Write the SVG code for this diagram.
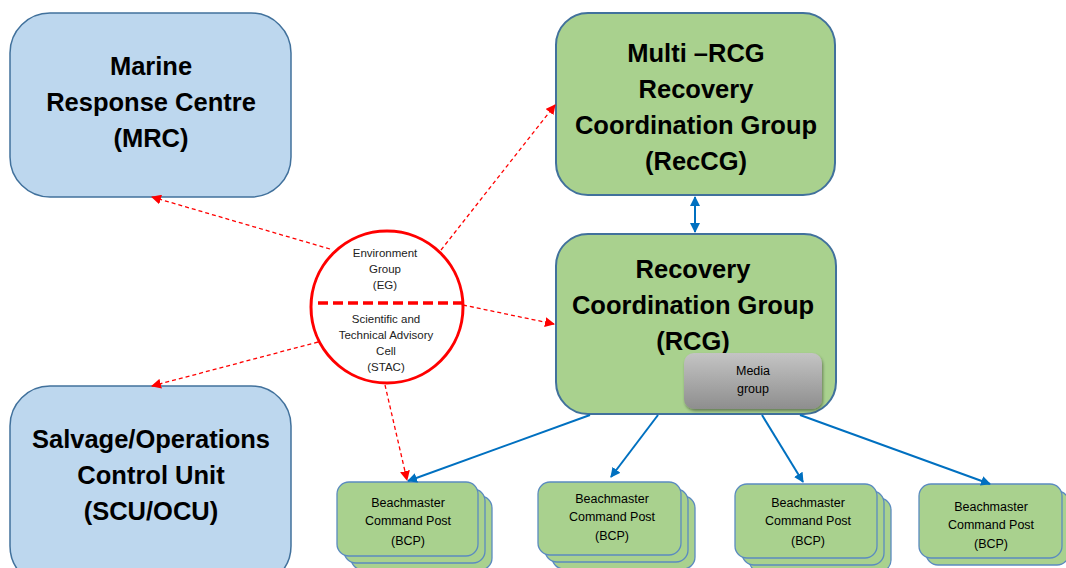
<svg xmlns="http://www.w3.org/2000/svg" width="1066" height="568" viewBox="0 0 1066 568">
<style>
.blue{fill:#BDD7EE;stroke:#41719C;stroke-width:1.5}
.green{fill:#A9D18E;stroke:#41719C;stroke-width:2}
.bcp{fill:#A9D18E;stroke:#5B8BC0;stroke-width:1.3}
.big{font-family:"Liberation Sans",Arial,sans-serif;font-weight:bold;font-size:25.5px;fill:#000;text-anchor:middle}
.small{font-family:"Liberation Sans",Arial,sans-serif;font-size:12.5px;fill:#000;text-anchor:middle}
.tiny{font-family:"Liberation Sans",Arial,sans-serif;font-size:11.5px;fill:#222;text-anchor:middle}
.red{stroke:#FF0000;stroke-width:1.3;stroke-dasharray:4 3;fill:none;marker-end:url(#ra)}
.bl{stroke:#0070C0;stroke-width:2;fill:none;marker-end:url(#ba)}
</style>
<defs>
<marker id="ra" viewBox="0 0 10 10" refX="9" refY="5" markerWidth="10" markerHeight="10" markerUnits="userSpaceOnUse" orient="auto"><path d="M0,0 L10,5 L0,10 z" fill="#FF0000"/></marker>
<marker id="ba" viewBox="0 0 10 10" refX="9" refY="5" markerWidth="10" markerHeight="10" markerUnits="userSpaceOnUse" orient="auto-start-reverse"><path d="M0,0 L10,5 L0,10 z" fill="#0070C0"/></marker>
<linearGradient id="mg" x1="0" y1="0" x2="0" y2="1"><stop offset="0" stop-color="#C4C4C4"/><stop offset="1" stop-color="#8E8E8E"/></linearGradient>
<filter id="sh" x="-10%" y="-10%" width="130%" height="140%"><feDropShadow dx="1" dy="2" stdDeviation="1.5" flood-color="#000" flood-opacity="0.4"/></filter>
</defs>

<g id="mrc">
<rect class="blue" x="10" y="13" width="281" height="184" rx="40"/>
<text class="big" x="151" y="75">Marine</text>
<text class="big" x="151" y="111">Response Centre</text>
<text class="big" x="151" y="147">(MRC)</text>
</g>

<g id="scu">
<rect class="blue" x="10" y="386" width="281" height="200" rx="40"/>
<text class="big" x="151" y="448">Salvage/Operations</text>
<text class="big" x="151" y="484">Control Unit</text>
<text class="big" x="151" y="520">(SCU/OCU)</text>
</g>

<g id="reccg">
<rect class="green" x="556" y="13" width="279" height="182" rx="32"/>
<text class="big" x="696" y="62">Multi –RCG</text>
<text class="big" x="696" y="98">Recovery</text>
<text class="big" x="696" y="134">Coordination Group</text>
<text class="big" x="696" y="170">(RecCG)</text>
</g>

<g id="rcg">
<rect class="green" x="556" y="234" width="280" height="180" rx="32"/>
<text class="big" x="693" y="278">Recovery</text>
<text class="big" x="693" y="314">Coordination Group</text>
<text class="big" x="693" y="350">(RCG)</text>
</g>

<g id="media">
<rect x="684" y="353" width="138" height="56" rx="10" fill="url(#mg)" filter="url(#sh)"/>
<text class="small" x="753" y="375">Media</text>
<text class="small" x="753" y="393">group</text>
</g>

<g id="eg-stac">
<circle cx="387" cy="307" r="76" fill="#fff" stroke="#FF0000" stroke-width="3"/>
<line x1="318" y1="303" x2="463" y2="303" stroke="#FF0000" stroke-width="3.5" stroke-dasharray="10 5"/>
<text class="tiny" x="385" y="257">Environment</text>
<text class="tiny" x="385" y="273">Group</text>
<text class="tiny" x="385" y="289">(EG)</text>
<text class="tiny" x="386" y="323">Scientific and</text>
<text class="tiny" x="386" y="339">Technical Advisory</text>
<text class="tiny" x="386" y="355">Cell</text>
<text class="tiny" x="386" y="371">(STAC)</text>
</g>

<g id="bcp1">
<rect class="bcp" x="351" y="496" width="141" height="74" rx="12"/>
<rect class="bcp" x="344" y="489" width="141" height="74" rx="12"/>
<rect class="bcp" x="337" y="482" width="141" height="74" rx="12"/>
<text class="small" x="408" y="507">Beachmaster</text>
<text class="small" x="408" y="525">Command Post</text>
<text class="small" x="408" y="545">(BCP)</text>
</g>
<g id="bcp2">
<rect class="bcp" x="552" y="496" width="143" height="73" rx="12"/>
<rect class="bcp" x="545" y="489" width="143" height="73" rx="12"/>
<rect class="bcp" x="538" y="482" width="143" height="73" rx="12"/>
<text class="small" x="612" y="503">Beachmaster</text>
<text class="small" x="612" y="521">Command Post</text>
<text class="small" x="612" y="540">(BCP)</text>
</g>
<g id="bcp3">
<rect class="bcp" x="749" y="498" width="142" height="74" rx="12"/>
<rect class="bcp" x="742" y="491" width="142" height="74" rx="12"/>
<rect class="bcp" x="735" y="484" width="142" height="74" rx="12"/>
<text class="small" x="808" y="507">Beachmaster</text>
<text class="small" x="808" y="525">Command Post</text>
<text class="small" x="808" y="545">(BCP)</text>
</g>
<g id="bcp4">
<rect class="bcp" x="926" y="491" width="143" height="74" rx="12"/>
<rect class="bcp" x="919" y="484" width="143" height="74" rx="12"/>
<text class="small" x="991" y="511">Beachmaster</text>
<text class="small" x="991" y="529">Command Post</text>
<text class="small" x="991" y="548">(BCP)</text>
</g>

<g id="connectors">
<line class="red" x1="330" y1="249" x2="152" y2="197"/>
<line class="red" x1="441" y1="250" x2="555" y2="105"/>
<line class="red" x1="463" y1="305" x2="554" y2="324"/>
<line class="red" x1="318" y1="342" x2="152" y2="386"/>
<line class="red" x1="385" y1="385" x2="407" y2="480"/>
<line class="bl" x1="695" y1="197" x2="695" y2="232" marker-start="url(#ba)"/>
<line class="bl" x1="590" y1="415" x2="408" y2="481"/>
<line class="bl" x1="658" y1="415" x2="611" y2="477"/>
<line class="bl" x1="762" y1="415" x2="803" y2="482"/>
<line class="bl" x1="800" y1="415" x2="990" y2="484"/>
</g>
</svg>
